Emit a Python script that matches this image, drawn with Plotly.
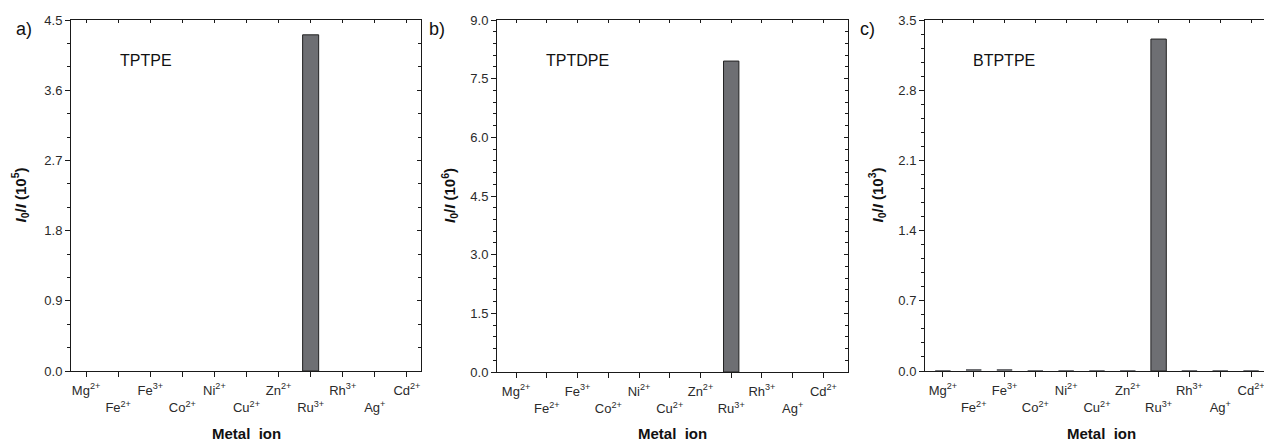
import plotly.graph_objects as go

categories = ["Mg2+", "Fe2+", "Fe3+", "Co2+", "Ni2+", "Cu2+", "Zn2+", "Ru3+", "Rh3+", "Ag+", "Cd2+"]
tick_labels = ["Mg<sup>2+</sup>", "Fe<sup>2+</sup>", "Fe<sup>3+</sup>", "Co<sup>2+</sup>",
               "Ni<sup>2+</sup>", "Cu<sup>2+</sup>", "Zn<sup>2+</sup>", "Ru<sup>3+</sup>",
               "Rh<sup>3+</sup>", "Ag<sup>+</sup>", "Cd<sup>2+</sup>"]
tptpe = [0, 0, 0, 0, 0, 0, 0, 4.31, 0, 0, 0]
tptdpe = [0, 0, 0, 0, 0, 0, 0, 7.95, 0, 0, 0]
btptpe = [0.003, 0.012, 0.012, 0.002, 0.003, 0.002, 0.002, 3.31, 0.002, 0.002, 0.002]
panel_names = ["TPTPE", "TPTDPE", "BTPTPE"]
panel_letters = ["a)", "b)", "c)"]
exponents = ["5", "6", "3"]
y_max = [4.5, 9.0, 3.5]
y_dtick = [0.9, 1.5, 0.7]
y_minor = [0.3, 0.3, 0.14]

W, H = 1264, 442
FONT = "Liberation Sans, Arial, sans-serif"
TXT = "#2a2a2a"
AX = "#1a1a1a"

# pixel layout of each panel (left, right, top, bottom)
boxes = [(71, 421, 20, 371), (497, 848, 20, 372), (925, 1264, 20, 371)]
x_ranges = [[-0.47, 10.44], [-0.62, 10.8], [-0.58, 10.42]]
ytitle_x = [20, 449, 877]
letter_x = [24, 437, 867]

xs = list(range(len(categories)))
odd_x = [i for i in xs if i % 2 == 1]
odd_text = [tick_labels[i] for i in odd_x]

fig = go.Figure()
data = [tptpe, tptdpe, btptpe]
layout = dict(width=W, height=H, margin=dict(l=0, r=0, t=0, b=0, autoexpand=False),
              template="none",
              plot_bgcolor="white", paper_bgcolor="white", showlegend=False,
              font=dict(family=FONT, size=13, color=TXT))
annotations = []
common = dict(showgrid=False, zeroline=False, automargin=False, ticklabeloverflow="allow")
for k in range(3):
    l, r, t, b = boxes[k]
    xd = [l / W, r / W]
    yd = [(H - b) / H, (H - t) / H]
    n = k + 1
    xn = "x" if n == 1 else f"x{n}"
    yn = "y" if n == 1 else f"y{n}"
    vals = data[k]
    fig.add_trace(go.Bar(x=xs, y=vals, xaxis=xn, yaxis=yn, width=0.5,
                         marker=dict(color="#6e6f73",
                                     line=dict(color="#222222",
                                               width=[1 if v > 0.1 else 0 for v in vals]))))
    layout[f"xaxis{'' if n == 1 else n}"] = dict(
        domain=xd, anchor=yn, range=x_ranges[k], tickmode="array", tickvals=xs,
        ticktext=[tick_labels[i] if i % 2 == 0 else "" for i in xs],
        ticks="outside", ticklen=5, tickcolor=AX, showline=True,
        linecolor=AX, linewidth=1, tickfont=dict(size=13, color=TXT),
        ticklabelstandoff=2, **common)
    layout[f"yaxis{'' if n == 1 else n}"] = dict(
        domain=yd, anchor=xn, range=[0, y_max[k]], tick0=0, dtick=y_dtick[k],
        tickformat=".1f", ticks="outside", ticklen=5, tickcolor=AX, showline=True,
        linecolor=AX, linewidth=1, tickfont=dict(size=13, color=TXT),
        minor=dict(ticks="outside", ticklen=3, dtick=y_minor[k], tick0=0, tickcolor=AX),
        **common)
    # top and right mirrored axes with inside ticks
    m = n + 3
    layout[f"xaxis{m}"] = dict(
        domain=xd, anchor=yn, overlaying=xn, side="top", range=x_ranges[k],
        tickmode="array", tickvals=xs, ticks="inside", ticklen=3, tickcolor=AX,
        showticklabels=False, showline=True, linecolor=AX, linewidth=1, **common)
    layout[f"yaxis{m}"] = dict(
        domain=yd, anchor=xn, overlaying=yn, side="right", range=[0, y_max[k]],
        tick0=0, dtick=y_dtick[k], ticks="inside" if k < 2 else "", ticklen=4, tickcolor=AX,
        showticklabels=False, showline=(k < 2), linecolor=AX, linewidth=1,
        minor=dict(ticks="inside" if k < 2 else "", ticklen=3, dtick=y_minor[k], tick0=0,
                   tickcolor=AX),
        **common)
    fig.add_trace(go.Bar(x=[], y=[], xaxis=f"x{m}", yaxis=f"y{m}", hoverinfo="skip"))
    # second row of category labels
    q = n + 6
    layout[f"xaxis{q}"] = dict(
        domain=xd, anchor=yn, overlaying=xn, side="bottom", range=x_ranges[k],
        tickmode="array", tickvals=odd_x, ticktext=odd_text, ticks="",
        showline=False, tickfont=dict(size=13, color=TXT), ticklabelstandoff=27, **common)
    fig.add_trace(go.Bar(x=[], y=[], xaxis=f"x{q}", yaxis=yn, hoverinfo="skip"))
    # panel name
    annotations.append(dict(text=panel_names[k], x=0.135, y=0.885, xref=f"{xn} domain",
                            yref=f"{yn} domain", xanchor="left", yanchor="middle",
                            showarrow=False, font=dict(size=16, color="#111")))
    # panel letter
    annotations.append(dict(text=panel_letters[k], x=letter_x[k] / W, y=(H - 29) / H,
                            xref="paper", yref="paper", xanchor="center", yanchor="middle",
                            showarrow=False, font=dict(size=18, color="#111")))
    # y title
    annotations.append(dict(text=f"<b><i>I</i><sub>0</sub>/<i>I</i> (10<sup>{exponents[k]}</sup>)</b>",
                            x=ytitle_x[k] / W, y=(H - (t + b) / 2) / H, xref="paper", yref="paper",
                            xanchor="center", yanchor="middle", textangle=-90, showarrow=False,
                            font=dict(size=15, color="#111")))
    # x title
    annotations.append(dict(text="<b>Metal\u00a0\u00a0ion</b>",
                            x=(l + r + (14 if k == 2 else 0)) / 2 / W,
                            y=(H - 433) / H, xref="paper", yref="paper", xanchor="center",
                            yanchor="middle", showarrow=False, font=dict(size=15, color="#111")))

layout["annotations"] = annotations
fig.update_layout(**layout)
fig.write_html("out.html")
